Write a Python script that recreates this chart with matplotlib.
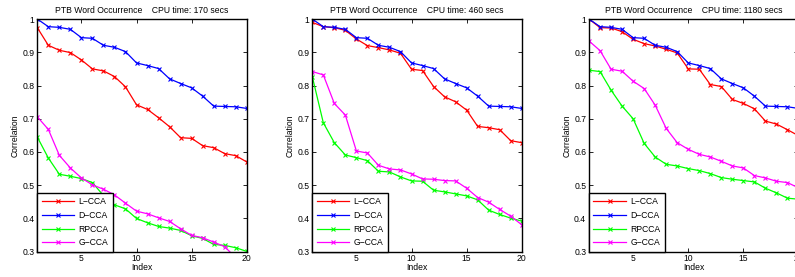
import numpy as np
import matplotlib
matplotlib.use("Agg")
import matplotlib.pyplot as plt

plt.rcParams['font.family'] = ['Liberation Sans', 'DejaVu Sans']

idx = np.arange(1, 21)

# D-CCA is the same in all three runs
dcca = [1.0, 0.977, 0.975, 0.969, 0.944, 0.942, 0.921, 0.915, 0.902, 0.868,
        0.860, 0.851, 0.820, 0.806, 0.793, 0.768, 0.738, 0.737, 0.736, 0.731]

# panel 1: 170 secs
lcca_1 = [0.974, 0.921, 0.906, 0.899, 0.877, 0.850, 0.844, 0.827, 0.796, 0.742,
          0.728, 0.703, 0.676, 0.643, 0.641, 0.619, 0.613, 0.595, 0.589, 0.570]
rpcca_1 = [0.645, 0.582, 0.533, 0.527, 0.520, 0.508, 0.469, 0.441, 0.429, 0.400,
           0.387, 0.376, 0.371, 0.364, 0.348, 0.340, 0.322, 0.319, 0.312, 0.301]
gcca_1 = [0.706, 0.668, 0.590, 0.552, 0.522, 0.501, 0.488, 0.471, 0.446, 0.422,
          0.414, 0.402, 0.391, 0.369, 0.349, 0.342, 0.329, 0.315, 0.282, 0.265]

# panel 2: 460 secs
lcca_2 = [0.990, 0.977, 0.974, 0.966, 0.940, 0.920, 0.914, 0.907, 0.897, 0.849,
          0.845, 0.797, 0.766, 0.751, 0.726, 0.677, 0.673, 0.667, 0.634, 0.628]
rpcca_2 = [0.827, 0.688, 0.628, 0.591, 0.583, 0.574, 0.542, 0.540, 0.525, 0.513,
           0.512, 0.485, 0.480, 0.474, 0.468, 0.456, 0.425, 0.412, 0.401, 0.392]
gcca_2 = [0.842, 0.832, 0.746, 0.711, 0.603, 0.597, 0.560, 0.549, 0.546, 0.534,
          0.519, 0.518, 0.514, 0.513, 0.491, 0.463, 0.449, 0.427, 0.407, 0.381]

# panel 3: 1180 secs
lcca_3 = [1.0, 0.974, 0.973, 0.962, 0.939, 0.926, 0.919, 0.909, 0.898, 0.850,
          0.849, 0.803, 0.797, 0.758, 0.746, 0.730, 0.693, 0.684, 0.667, 0.649]
rpcca_3 = [0.846, 0.842, 0.786, 0.738, 0.700, 0.626, 0.585, 0.563, 0.558, 0.550,
           0.544, 0.535, 0.523, 0.518, 0.514, 0.510, 0.491, 0.477, 0.461, 0.458]
gcca_3 = [0.934, 0.905, 0.849, 0.843, 0.813, 0.791, 0.741, 0.671, 0.628, 0.608,
          0.593, 0.585, 0.572, 0.558, 0.552, 0.529, 0.522, 0.512, 0.508, 0.492]

cpu_times = [170, 460, 1180]
panels = [(lcca_1, rpcca_1, gcca_1), (lcca_2, rpcca_2, gcca_2), (lcca_3, rpcca_3, gcca_3)]
lefts = [0.0469, 0.3928, 0.7409]

fig = plt.figure(figsize=(7.95, 2.77), dpi=100)
fs = 6.2

for k in range(3):
    # third panel runs past the right edge, as in the original crop
    ax = fig.add_axes([lefts[k], 0.0913, 0.2635, 0.840])
    lc, rp, gc = panels[k]
    kw = dict(marker='x', markersize=3, linewidth=0.9, markeredgewidth=0.8)
    ax.plot(idx, lc, color='#ff0000', label='L\u2212CCA', **kw)
    ax.plot(idx, dcca, color='#0000ff', label='D\u2212CCA', **kw)
    ax.plot(idx, rp, color='#00ff00', label='RPCCA', **kw)
    ax.plot(idx, gc, color='#ff00ff', label='G\u2212CCA', **kw)
    ax.set_xlim(1, 20)
    ax.set_ylim(0.3, 1.0)
    ax.set_xticks([5, 10, 15, 20])
    ax.set_yticks([0.3, 0.4, 0.5, 0.6, 0.7, 0.8, 0.9, 1.0])
    ax.set_yticklabels(['0.3', '0.4', '0.5', '0.6', '0.7', '0.8', '0.9', '1'])
    ax.tick_params(direction='in', length=3, width=0.6, labelsize=fs, pad=2,
                   top=True, right=True)
    for s in ax.spines.values():
        s.set_linewidth(1.0)
    ax.set_title('PTB Word Occurrence    CPU time: %d secs' % cpu_times[k],
                 fontsize=fs, pad=4)
    ax.set_xlabel('Index', fontsize=fs, labelpad=0)
    ax.set_ylabel('Correlation', fontsize=fs, labelpad=2)
    leg = ax.legend(loc='lower left', fontsize=fs, borderaxespad=0, fancybox=False,
                    framealpha=1, edgecolor='black', handlelength=3.8,
                    handletextpad=0.5, borderpad=0.5, labelspacing=0.55)
    leg.get_frame().set_linewidth(1.0)

fig.savefig('out.png', dpi=100)
